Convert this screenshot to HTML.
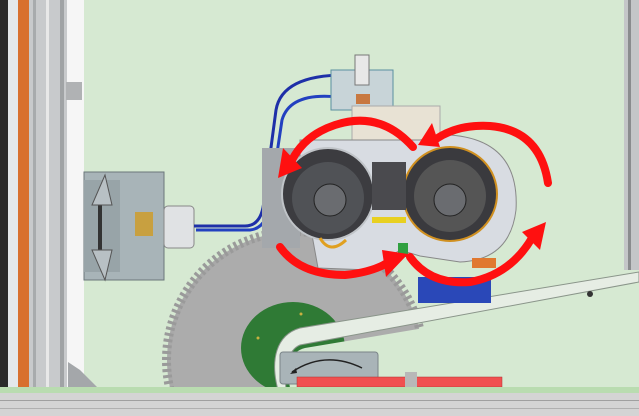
<!DOCTYPE html>
<html><head><meta charset="utf-8"><style>html,body{margin:0;padding:0;background:#d6e9d2;overflow:hidden;width:639px;height:416px}svg{display:block}</style></head><body>
<svg width="639" height="416" viewBox="0 0 639 416" xmlns="http://www.w3.org/2000/svg">
<rect width="639" height="416" fill="#d6e9d2"/>
<!-- saw blade -->
<circle cx="295" cy="360" r="128" fill="#a9a9a9" stroke="#9a9a9a" stroke-width="10" stroke-dasharray="3 3"/>
<circle cx="295" cy="360" r="124" fill="#acacac"/>
<!-- left frame -->
<rect x="0" y="0" width="8" height="390" fill="#2a2a2a"/>
<rect x="8" y="0" width="10" height="390" fill="#e4e8ea"/>
<rect x="18" y="0" width="11" height="390" fill="#d8702e"/>
<rect x="29" y="0" width="38" height="390" fill="#c8cacc"/>
<rect x="33" y="0" width="3" height="390" fill="#a8abad"/>
<rect x="46" y="0" width="3" height="390" fill="#e8e8e8"/>
<rect x="60" y="0" width="4" height="390" fill="#a0a3a5"/>
<rect x="67" y="0" width="17" height="390" fill="#f6f6f6"/>
<rect x="66" y="82" width="16" height="18" fill="#b0b2b4"/>
<path d="M68 362 L80 370 L98 388 L68 388Z" fill="#a4a7aa"/>
<!-- right bar -->
<rect x="624" y="0" width="15" height="270" fill="#c4c6c8"/>
<rect x="628" y="0" width="3" height="270" fill="#8a8c8e"/>
<!-- green hub -->
<ellipse cx="293" cy="348" rx="52" ry="46" fill="#2f7a35"/>
<circle cx="301" cy="314" r="1.5" fill="#c8b040"/><circle cx="258" cy="338" r="1.5" fill="#c8b040"/>
<!-- belt -->
<path d="M278 390 C270 360 276 335 300 328 L639 272 L639 282 L300 345 C288 350 284 368 286 390Z" fill="#e6ede4" stroke="#8a958a" stroke-width="1"/>
<path d="M290 388 C286 365 290 352 305 348 L639 292 L639 390 Z" fill="#d6e9d2"/>
<circle cx="590" cy="294" r="3" fill="#333"/>
<!-- gauge & red bar -->
<rect x="280" y="352" width="98" height="32" rx="3" fill="#a9b4b8" stroke="#7a8488"/>
<path d="M292 372 Q325 350 362 368" fill="none" stroke="#222" stroke-width="1.5"/>
<path d="M290 374 l6 -6 l1 5z" fill="#222"/>
<rect x="297" y="377" width="205" height="10" fill="#f05050" stroke="#b03030" stroke-width="0.5"/>
<rect x="405" y="372" width="12" height="15" fill="#b8b8b8"/>
<!-- floor -->
<rect x="0" y="387" width="639" height="6" fill="#b9dcb0"/>
<rect x="0" y="393" width="639" height="23" fill="#d4d4d4"/>
<rect x="0" y="400" width="639" height="1" fill="#a0a0a0"/>
<rect x="0" y="408" width="639" height="1" fill="#b0b0b0"/>
<!-- connector -->
<rect x="84" y="172" width="80" height="108" fill="#a8b4b8" stroke="#6b767a"/>
<rect x="84" y="180" width="36" height="92" fill="#98a4a8"/>
<rect x="98" y="196" width="4" height="64" fill="#333"/>
<path d="M92 205 L105 175 L112 205Z M92 250 L105 280 L112 250Z" fill="#b8c0c4" stroke="#555"/>
<rect x="135" y="212" width="18" height="24" fill="#c8a040"/>
<rect x="164" y="206" width="30" height="42" rx="4" fill="#e0e2e4" stroke="#888"/>
<!-- blue cables -->
<path d="M194 226 L245 226 Q262 226 264 200 L276 110 Q282 75 345 75" fill="none" stroke="#1e2fa8" stroke-width="3"/>
<path d="M196 230 L250 230 Q268 228 270 200 L282 120 Q290 92 338 97" fill="none" stroke="#2240c0" stroke-width="3"/>
<!-- valve -->
<rect x="331" y="70" width="62" height="40" fill="#c8d4d8" stroke="#5a8fa0"/>
<rect x="355" y="55" width="14" height="30" fill="#e8e8e8" stroke="#777"/>
<rect x="356" y="94" width="14" height="10" fill="#c87840"/>
<rect x="352" y="106" width="88" height="36" fill="#e8e2d4" stroke="#aaa"/>
<!-- mechanism body -->
<rect x="262" y="148" width="38" height="100" fill="#a4a8ac"/>
<path d="M300 140 L420 140 L450 135 Q520 140 516 210 Q510 260 460 262 L420 256 L400 250 L370 270 L318 268 L312 235 L300 230Z" fill="#d8dce2" stroke="#888"/>
<circle cx="328" cy="194" r="46" fill="#3c3c40" stroke="#c0c4c8" stroke-width="2"/>
<circle cx="328" cy="198" r="36" fill="#505256"/>
<circle cx="330" cy="200" r="16" fill="#6a6c70" stroke="#222"/>
<circle cx="450" cy="194" r="47" fill="#3a3a3e" stroke="#d09020" stroke-width="2"/>
<circle cx="450" cy="196" r="36" fill="#555"/>
<circle cx="450" cy="200" r="16" fill="#6a6c70" stroke="#222"/>
<rect x="372" y="162" width="34" height="48" fill="#4a4a4e"/>
<rect x="372" y="217" width="34" height="6" fill="#e8d020"/>
<path d="M320 238 Q330 255 346 240" fill="none" stroke="#e0a020" stroke-width="3"/>
<rect x="418" y="277" width="73" height="26" fill="#2a48b8"/>
<rect x="398" y="243" width="10" height="14" fill="#30a040"/>
<rect x="472" y="258" width="24" height="10" fill="#e07830"/>
<!-- red arrows -->
<g fill="none" stroke="#ff1010" stroke-width="8" stroke-linecap="round">
<path d="M413 147 Q380 110 335 125 Q305 135 292 160"/>
<path d="M548 183 Q540 130 490 126 Q455 124 432 142"/>
<path d="M280 247 Q300 275 345 275 Q375 272 392 260"/>
<path d="M410 257 Q430 285 470 282 Q510 275 532 238"/>
</g>
<g fill="#ff1010">
<path d="M278 178 L283 148 L302 168Z"/>
<path d="M418 145 L432 123 L440 147Z"/>
<path d="M408 254 L382 250 L386 277Z"/>
<path d="M546 222 L522 232 L540 250Z"/>
</g>
</svg>
</body></html>
